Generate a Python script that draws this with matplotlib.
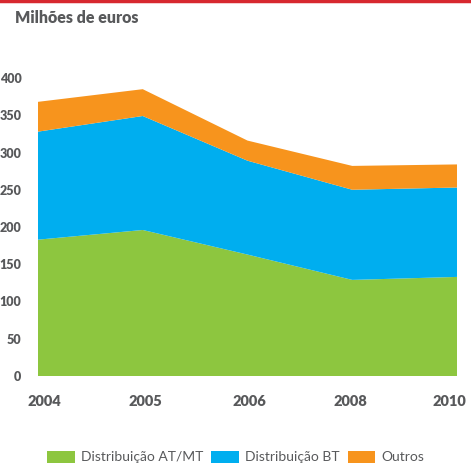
import matplotlib.pyplot as plt
from matplotlib.patches import Patch
from matplotlib.lines import Line2D
from matplotlib.transforms import ScaledTranslation

# =========================================================
# DATA
# =========================================================

years = ["2004", "2005", "2006", "2008", "2010"]
dist_at_mt = [183, 196, 163, 129, 133]
dist_bt = [145, 153, 126, 121, 120]
outros = [40, 36, 27, 32, 31]

labels = ["Distribuição AT/MT", "Distribuição BT", "Outros"]
colors = ["#8dc63f", "#00aeef", "#f7941d"]
yticks = [0, 50, 100, 150, 200, 250, 300, 350, 400]

TEXT = "#58595b"
plt.rcParams["font.family"] = ["Lato", "DejaVu Sans"]

# =========================================================
# PLOT
# =========================================================

fig = plt.figure(figsize=(4.71, 4.65), dpi=100)
ax = fig.add_axes([38 / 471, 1 - 376 / 465, 419 / 471, 298 / 465])

x = list(range(len(years)))
ax.stackplot(x, dist_at_mt, dist_bt, outros, colors=colors, linewidth=0)

ax.set_xlim(0, len(years) - 1)
ax.set_ylim(0, 400)
ax.set_xticks(x)
ax.set_xticklabels(years, fontsize=10.5, fontweight="heavy", color=TEXT)
ax.set_yticks(yticks)
ax.set_yticklabels([str(v) for v in yticks], fontsize=9, fontweight="heavy", color=TEXT)
ax.tick_params(axis="both", length=0)
ax.tick_params(axis="y", pad=12)
ax.tick_params(axis="x", pad=14)
for s in ax.spines.values():
    s.set_visible(False)

# year labels sit a little inside the end ticks in the original
shifts = [6.5, 3, 1.5, -2, -8]
for lab, dx in zip(ax.get_xticklabels(), shifts):
    lab.set_transform(lab.get_transform() + ScaledTranslation(dx / 100, 0, fig.dpi_scale_trans))

# red rule at the top
fig.add_artist(Line2D([0, 1], [1 - 1 / 465, 1 - 1 / 465], color="#d7282f", lw=2.5,
                      transform=fig.transFigure))

fig.text(15 / 471, 1 - 18 / 465, "Milhões de euros", fontsize=11.5, fontweight="heavy",
         color=TEXT, va="center", ha="left")

handles = [Patch(facecolor=c, edgecolor="none") for c in colors]
fig.legend(handles, labels, loc="center", bbox_to_anchor=(0.5, 1 - 457 / 465), ncol=3,
           frameon=False, fontsize=10, labelcolor=TEXT, handlelength=2.0,
           handleheight=1.0, handletextpad=0.4, columnspacing=0.6, borderpad=0)

fig.savefig("out.png", dpi=100)
